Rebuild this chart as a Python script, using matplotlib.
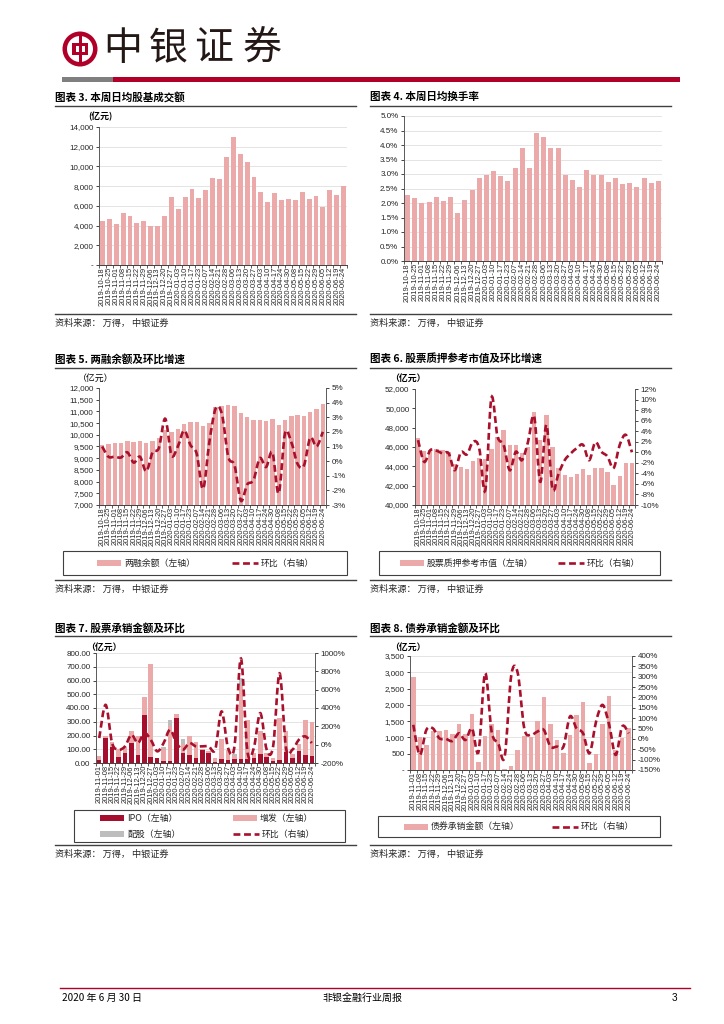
import numpy as np
import matplotlib
matplotlib.use('Agg')
import matplotlib.pyplot as plt
from matplotlib.path import Path
from matplotlib.patches import PathPatch, Rectangle, Circle
from matplotlib.lines import Line2D
from matplotlib.ticker import FixedLocator, FuncFormatter

plt.rcParams['font.family'] = ['Liberation Sans', 'Noto Sans CJK SC', 'DejaVu Sans']
CJK = ['Noto Sans CJK SC', 'DejaVu Sans']

#%% データ
weeks36 = ['2019-10-18', '2019-10-25', '2019-11-01', '2019-11-08', '2019-11-15', '2019-11-22',
           '2019-11-29', '2019-12-06', '2019-12-13', '2019-12-20', '2019-12-27', '2020-01-03',
           '2020-01-10', '2020-01-17', '2020-01-23', '2020-02-07', '2020-02-14', '2020-02-21',
           '2020-02-28', '2020-03-06', '2020-03-13', '2020-03-20', '2020-03-27', '2020-04-03',
           '2020-04-10', '2020-04-17', '2020-04-24', '2020-04-30', '2020-05-08', '2020-05-15',
           '2020-05-22', '2020-05-29', '2020-06-05', '2020-06-12', '2020-06-19', '2020-06-24']
weeks34 = weeks36[2:]

# 图表3 日均股基成交额（亿元）
turnover_amt = [4500, 4700, 4200, 5300, 5000, 4300, 4450, 4000, 3950, 4950, 6900, 5700,
                6900, 7750, 6750, 7600, 8800, 8700, 10950, 12950, 11250, 10500, 8900, 7450,
                6400, 7300, 6550, 6700, 6550, 7400, 6650, 7000, 5900, 7650, 7100, 8000]
# 图表4 日均换手率（%）
turnover_rate = [2.28, 2.18, 2.00, 2.05, 2.20, 2.08, 2.22, 1.65, 2.12, 2.45, 2.85, 2.95,
                 3.12, 2.92, 2.75, 3.22, 3.88, 3.22, 4.42, 4.28, 3.88, 3.88, 2.98, 2.78,
                 2.55, 3.15, 2.95, 2.95, 2.72, 2.85, 2.65, 2.68, 2.55, 2.85, 2.68, 2.75]
# 图表5 两融余额（亿元）と環比（%）
margin_bal = [9580, 9600, 9640, 9670, 9720, 9710, 9720, 9660, 9720, 9850, 10200, 10130,
              10250, 10450, 10560, 10540, 10370, 10500, 11200, 11230, 11270, 11230, 10930, 10760,
              10640, 10650, 10600, 10670, 10420, 10620, 10800, 10840, 10800, 10990, 11090, 11320]
margin_chg = [1.0, 0.3, 0.3, 0.25, 0.6, -0.1, 0.3, -0.7, 0.6, 0.9, 2.9, 0.4,
              1.0, 2.1, 1.1, 0.5, -1.9, 1.3, 3.6, 3.2, 0.3, -0.3, -2.7, -1.6,
              -1.3, 0.2, -0.4, 0.6, -2.2, 1.9, 1.3, -0.2, -0.3, 1.6, 1.0, 2.0]
# 图表6 股票质押参考市值（亿元）と環比（%）
pledge_val = [46900, 45600, 45700, 45800, 45700, 45500, 44200, 43900, 43700, 44600, 44900, 44800,
              45800, 47000, 47800, 46200, 46200, 45400, 46000, 49600, 46700, 49300, 46000, 43800,
              43100, 42900, 43200, 43700, 43100, 43800, 43800, 43400, 42100, 43000, 44300, 44300]
pledge_chg = [2.3, -1.8, 0.4, 0.3, -0.2, -0.2, -3.4, 0.0, -0.4, 2.0, 0.8, -7.2,
              10.3, 3.0, 1.4, -3.4, 0.1, -1.5, 2.0, 6.8, -5.6, 5.2, -6.9, -4.0,
              -1.5, -0.2, 0.8, 1.4, -1.5, 1.9, 0.1, -0.8, -3.0, 1.4, 3.3, 0.0]
# 图表7 股票承销金额（亿元）と環比（%）
ipo_amt = [20, 185, 120, 45, 75, 145, 55, 350, 45, 35, 15, 15, 325, 70, 55, 40, 95,
           70, 5, 30, 20, 30, 30, 30, 35, 65, 45, 15, 20, 80, 35, 90, 55, 50]
seo_amt = [30, 15, 30, 55, 40, 85, 145, 130, 675, 5, 85, 255, 30, 70, 140, 110, 5,
           15, 35, 145, 75, 20, 530, 280, 40, 170, 30, 20, 310, 150, 30, 50, 255, 245]
rights_amt = [0, 0, 0, 0, 0, 0, 0, 0, 0, 0, 15, 40, 0, 35, 0, 0, 0,
              0, 0, 0, 0, 15, 60, 0, 0, 0, 0, 0, 0, 0, 0, 0, 0, 0]
equity_chg = [72, 434, 18, -54, -18, 108, 18, 127, 54, -72, 18, 163, 18, -54, 18, -18, -18,
              -18, -54, 362, -36, -18, 940, -72, -36, 344, -54, -18, 778, -36, -54, 54, 90, 18]
# 图表8 债券承销金额（亿元）と環比（%）
bond_amt = [2850, 1000, 780, 1190, 1200, 1230, 1100, 1400, 1120, 1720, 240, 1040, 1400, 1230,
            20, 130, 620, 1040, 1000, 1500, 2250, 1400, 920, 530, 1080, 1700, 2080, 230,
            500, 1400, 2270, 600, 980, 1300]
bond_chg = [68, -77, 43, 51, 3, 0, -10, 27, -5, 51, -61, 317, 35, -21, -85, 305, 318,
            51, 19, 35, 43, -37, -37, -37, 108, 51, 27, -69, 84, 164, 68, -77, 60, 27]

PINK = '#EBA9A9'
DRED = '#A8102C'
IPO_C = '#A50F2D'
GRAY_C = '#BDBDBD'
HRED = '#B0002A'

W, H = 724, 1024
fig = plt.figure(figsize=(7.24, 10.24), dpi=100)

# ページ全体の描画用（ピクセル座標）
ov = fig.add_axes([0, 0, 1, 1])
ov.set_xlim(0, W)
ov.set_ylim(H, 0)
ov.axis('off')


def box(x0, y0, x1, y1):
    return [x0 / W, 1 - y1 / H, (x1 - x0) / W, (y1 - y0) / H]


def smooth_path(xs, ys, t=1 / 6):
    """ Excel風の平滑線（Catmull-Rom → ベジェ） """
    xs = np.asarray(xs, float)
    ys = np.asarray(ys, float)
    n = len(xs)
    verts = [(xs[0], ys[0])]
    codes = [Path.MOVETO]
    for i in range(n - 1):
        i0 = max(i - 1, 0)
        i3 = min(i + 2, n - 1)
        c1 = (xs[i] + (xs[i + 1] - xs[i0]) * t, ys[i] + (ys[i + 1] - ys[i0]) * t)
        c2 = (xs[i + 1] - (xs[i3] - xs[i]) * t, ys[i + 1] - (ys[i3] - ys[i]) * t)
        verts += [c1, c2, (xs[i + 1], ys[i + 1])]
        codes += [Path.CURVE4] * 3
    return Path(verts, codes)


def style_axes(ax, labels, yticks, yfmt, grid=False):
    n = len(labels)
    ax.set_xlim(-0.5, n - 0.5)
    ax.set_ylim(yticks[0], yticks[-1])
    ax.set_xticks(range(n))
    ax.set_xticklabels(labels, rotation=90, fontsize=5.4, color='#262626')
    ax.xaxis.set_minor_locator(FixedLocator(np.arange(-0.5, n, 1)))
    ax.tick_params(axis='x', which='major', length=0, pad=1.5)
    ax.tick_params(axis='x', which='minor', length=2.5, width=0.6, color='#404040')
    ax.yaxis.set_major_locator(FixedLocator(yticks))
    ax.yaxis.set_major_formatter(FuncFormatter(yfmt))
    ax.tick_params(axis='y', labelsize=5.8, length=2.5, width=0.6, pad=1.5,
                   colors='#262626')
    for s in ['top', 'right']:
        ax.spines[s].set_visible(False)
    ax.spines['left'].set_color('#595959')
    ax.spines['bottom'].set_color('#404040')
    ax.spines['left'].set_linewidth(0.7)
    ax.spines['bottom'].set_linewidth(0.7)
    if grid:
        ax.yaxis.grid(True, color='#D9D9D9', lw=0.5)
        ax.set_axisbelow(True)


def right_axis(ax, yticks, yfmt):
    ax2 = ax.twinx()
    ax2.set_ylim(yticks[0], yticks[-1])
    ax2.yaxis.set_major_locator(FixedLocator(yticks))
    ax2.yaxis.set_major_formatter(FuncFormatter(yfmt))
    ax2.tick_params(axis='y', labelsize=5.8, length=2.5, width=0.6, pad=1.5,
                    colors='#262626')
    for s in ['top', 'left', 'bottom']:
        ax2.spines[s].set_visible(False)
    ax2.spines['right'].set_color('#595959')
    ax2.spines['right'].set_linewidth(0.7)
    return ax2


def add_line(ax2, values):
    xs = np.arange(len(values))
    ax2.add_patch(PathPatch(smooth_path(xs, values), fill=False, edgecolor=DRED,
                            lw=1.9, linestyle=(0, (2.6, 1.4)), capstyle='butt', zorder=3))


def frame(x0, x1, y_title, y_line, y_bottom, title):
    ov.text(x0, y_title, title, fontsize=7.6, fontweight='bold', family=CJK,
            va='center', ha='left', color='black')
    ov.plot([x0, x1], [y_line, y_line], color='#404040', lw=1.0)
    ov.plot([x0, x1], [y_bottom, y_bottom], color='#404040', lw=1.0)
    ov.text(x0, y_bottom + 9.5, '资料来源： 万得， 中银证券', fontsize=6.6, family=CJK,
            va='center', ha='left', color='#262626', style='italic')


def legend_box(x0, y0, x1, y1):
    ov.add_patch(Rectangle((x0, y0), x1 - x0, y1 - y0, fill=False, ec='#404040', lw=0.8))


def leg_patch(x, y, color, text):
    ov.add_patch(Rectangle((x, y - 3), 24, 6, color=color, lw=0))
    ov.text(x + 27, y, text, fontsize=6.4, family=CJK, va='center', ha='left', color='#262626')


def leg_line(x, y, text):
    ov.plot([x, x + 26], [y, y], color=DRED, lw=1.9, linestyle=(0, (2.6, 1.4)))
    ov.text(x + 29, y, text, fontsize=6.4, family=CJK, va='center', ha='left', color='#262626')


#%% ヘッダー
ov.add_patch(Circle((80, 49), 17.5, color=HRED, lw=0))
ov.add_patch(Circle((80, 49), 13, color='white', lw=0))
ov.add_patch(Rectangle((72, 43), 16, 12, color=HRED, lw=0))
ov.add_patch(Rectangle((75.5, 46), 9, 6, color='white', lw=0))
ov.add_patch(Rectangle((78.5, 35), 3, 28, color=HRED, lw=0))
for ch, cx in zip('中银证券', [123, 168, 214, 262]):
    ov.text(cx, 49, ch, fontsize=28, family=CJK, ha='center', va='center', color='#231815')
ov.add_patch(Rectangle((62, 77), 51, 5, color='#7F7F7F', lw=0))
ov.add_patch(Rectangle((113, 77), 567, 5, color=HRED, lw=0))

#%% 图表3
frame(55, 356, 97, 106, 314, '图表 3. 本周日均股基成交额')
ov.text(88, 116, '(亿元)', fontsize=6.4, fontweight='bold', family=CJK, va='center')
ax3 = fig.add_axes(box(99, 127, 347, 265))
ax3.bar(range(len(turnover_amt)), turnover_amt, width=0.7, color=PINK)
style_axes(ax3, weeks36, list(range(0, 14001, 2000)),
           lambda v, p: '-' if v == 0 else f'{v:,.0f}', grid=True)

#%% 图表4
frame(370, 671, 97, 106, 314, '图表 4. 本周日均换手率')
ax4 = fig.add_axes(box(404, 116, 662, 261))
ax4.bar(range(len(turnover_rate)), turnover_rate, width=0.7, color=PINK)
style_axes(ax4, weeks36, [i * 0.5 for i in range(11)],
           lambda v, p: f'{v:.1f}%', grid=True)

#%% 图表5
frame(55, 356, 359, 368, 580, '图表 5. 两融余额及环比增速')
ov.text(78, 378, '（亿元）', fontsize=6.4, family=CJK, va='center')
ax5 = fig.add_axes(box(99, 388, 326, 505))
ax5.bar(range(len(margin_bal)), margin_bal, width=0.7, color=PINK)
style_axes(ax5, weeks36, list(range(7000, 12001, 500)), lambda v, p: f'{v:,.0f}')
ax5b = right_axis(ax5, list(range(-3, 6)), lambda v, p: f'{v:.0f}%')
add_line(ax5b, margin_chg)
legend_box(63, 551, 347, 575)
leg_patch(97, 563, PINK, '两融余额（左轴）')
leg_line(232, 563, '环比（右轴）')

#%% 图表6
frame(370, 671, 359, 368, 580, '图表 6. 股票质押参考市值及环比增速')
ov.text(390, 378, '（亿元）', fontsize=6.4, fontweight='bold', family=CJK, va='center')
ax6 = fig.add_axes(box(415, 389, 635, 505))
ax6.bar(range(len(pledge_val)), pledge_val, width=0.7, color=PINK)
style_axes(ax6, weeks36, list(range(40000, 52001, 2000)), lambda v, p: f'{v:,.0f}')
ax6b = right_axis(ax6, list(range(-10, 13, 2)), lambda v, p: f'{v:.0f}%')
add_line(ax6b, pledge_chg)
legend_box(379, 551, 660, 575)
leg_patch(400, 563, PINK, '股票质押参考市值（左轴）')
leg_line(558, 563, '环比（右轴）')

#%% 图表7
frame(55, 356, 628, 636, 845, '图表 7. 股票承销金额及环比')
ov.text(86, 647, '（亿元）', fontsize=6.4, fontweight='bold', family=CJK, va='center')
ax7 = fig.add_axes(box(96, 653, 315, 763))
x7 = np.arange(len(ipo_amt))
ax7.bar(x7, ipo_amt, width=0.7, color=IPO_C)
ax7.bar(x7, seo_amt, width=0.7, bottom=ipo_amt, color=PINK)
ax7.bar(x7, rights_amt, width=0.7, bottom=np.add(ipo_amt, seo_amt), color=GRAY_C)
style_axes(ax7, weeks34, list(range(0, 801, 100)), lambda v, p: f'{v:.2f}', grid=True)
ax7b = right_axis(ax7, list(range(-200, 1001, 200)), lambda v, p: f'{v:.0f}%')
add_line(ax7b, equity_chg)
legend_box(74, 810, 345, 842)
leg_patch(100, 818, IPO_C, 'IPO（左轴）')
leg_patch(233, 818, PINK, '增发（左轴）')
leg_patch(100, 834, GRAY_C, '配股（左轴）')
leg_line(233, 834, '环比（右轴）')

#%% 图表8
frame(370, 671, 628, 636, 845, '图表 8. 债券承销金额及环比')
ov.text(390, 647, '（亿元）', fontsize=6.4, fontweight='bold', family=CJK, va='center')
ax8 = fig.add_axes(box(410, 656, 632, 770))
ax8.bar(range(len(bond_amt)), bond_amt, width=0.7, color=PINK)
style_axes(ax8, weeks34, list(range(0, 3501, 500)),
           lambda v, p: '-' if v == 0 else f'{v:,.0f}', grid=True)
ax8b = right_axis(ax8, list(range(-150, 401, 50)), lambda v, p: f'{v:.0f}%')
add_line(ax8b, bond_chg)
legend_box(378, 816, 660, 837)
leg_patch(404, 826.5, PINK, '债券承销金额（左轴）')
leg_line(552, 826.5, '环比（右轴）')

#%% フッター
ov.plot([60, 690], [988, 988], color=HRED, lw=1.0)
ov.text(62, 998, '2020 年 6 月 30 日', fontsize=7.2, family=CJK, va='center', ha='left')
ov.text(362, 998, '非银金融行业周报', fontsize=7.2, family=CJK, va='center', ha='center')
ov.text(677, 998, '3', fontsize=7.2, va='center', ha='right')

fig.savefig('out.png', dpi=100)
